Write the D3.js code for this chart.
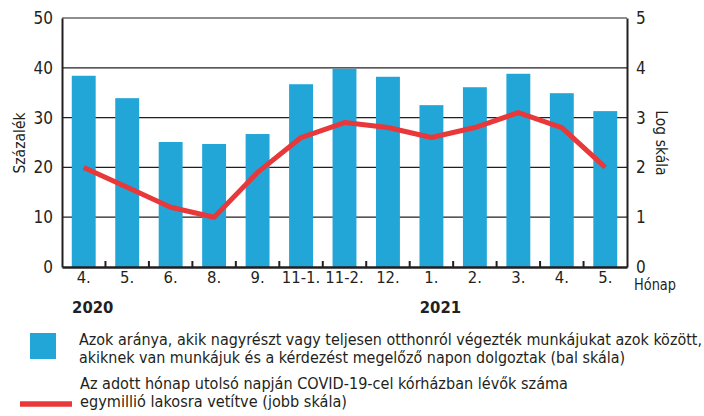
<html>
<head>
<meta charset="utf-8">
<script src="https://d3js.org/d3.v7.min.js"></script>
<style>
  body { margin: 0; background: #fff; }
  text { font-family: 'DejaVu Sans Condensed', 'Liberation Sans Narrow', sans-serif; fill: #231f20; }
</style>
</head>
<body>
<svg id="chart" width="704" height="416"></svg>
<script>
// data
var months = ["4.", "5.", "6.", "8.", "9.", "11-1.", "11-2.", "12.", "1.", "2.", "3.", "4.", "5."];
var years = [{ year: "2020", at: 0 }, { year: "2021", at: 8 }];
var homeShare = [38.4, 33.9, 25.1, 24.7, 26.7, 36.7, 39.8, 38.2, 32.5, 36.1, 38.8, 34.9, 31.3];
var covidLog = [2.0, 1.6, 1.2, 1.0, 1.9, 2.6, 2.9, 2.8, 2.6, 2.8, 3.1, 2.8, 2.0];
var leftTicks = [0, 10, 20, 30, 40, 50];
var rightTicks = [0, 1, 2, 3, 4, 5];
var legendBar = ["Azok aránya, akik nagyrészt vagy teljesen otthonról végezték munkájukat azok között,",
                 "akiknek van munkájuk és a kérdezést megelőző napon dolgoztak (bal skála)"];
var legendLine = ["Az adott hónap utolsó napján COVID-19-cel kórházban lévők száma",
                  "egymillió lakosra vetítve (jobb skála)"];

var blue = "#22a6d8", red = "#e8383a";
var svg = d3.select("#chart");
var L = 62, R = 627, T = 18, B = 267;
var idx = months.map(function (d, i) { return i; });

var x = d3.scaleBand().domain(idx).range([L, R]).paddingInner(0.45).paddingOuter(0.225);
var xb = d3.scaleBand().domain(idx).range([L, R]);
var yL = d3.scaleLinear().domain([0, 50]).range([B, T]);
var yR = d3.scaleLinear().domain([0, 5]).range([B, T]);

// gridlines
svg.append("g").selectAll("line").data(leftTicks.slice(1)).enter().append("line")
  .attr("x1", L).attr("x2", R).attr("y1", yL).attr("y2", yL)
  .attr("stroke", "#231f20").attr("stroke-width", 1.2);

// bars
svg.append("g").selectAll("rect").data(homeShare).enter().append("rect")
  .attr("x", function (d, i) { return x(i); })
  .attr("width", x.bandwidth())
  .attr("y", function (d) { return yL(d); })
  .attr("height", function (d) { return B - yL(d); })
  .attr("fill", blue);

// line
var line = d3.line()
  .x(function (d, i) { return xb(i) + xb.bandwidth() / 2; })
  .y(function (d) { return yR(d); });
svg.append("path").datum(covidLog).attr("d", line)
  .attr("fill", "none").attr("stroke", red).attr("stroke-width", 5)
  .attr("stroke-linejoin", "round");

// axes
var axL = svg.append("g").attr("transform", "translate(" + L + ",0)")
  .call(d3.axisLeft(yL).tickValues(leftTicks).tickSize(0).tickPadding(9));
var axR = svg.append("g").attr("transform", "translate(" + R + ",0)")
  .call(d3.axisRight(yR).tickValues(rightTicks).tickSize(0).tickPadding(9).tickFormat(d3.format("d")));
[axL, axR].forEach(function (g) {
  g.select(".domain").attr("stroke", "#231f20").attr("stroke-width", 2);
  g.selectAll("text").attr("font-size", 17).attr("font-family", null);
});

var axB = svg.append("g").attr("transform", "translate(0," + B + ")")
  .call(d3.axisBottom(x).tickSize(0).tickPadding(4).tickFormat(function (i) { return months[i]; }));
axB.select(".domain").attr("stroke", "#231f20").attr("stroke-width", 2.5);
axB.selectAll("text").attr("font-size", 16.5).attr("font-family", null);
axB.selectAll("line.sep").data(idx.slice(1)).enter().append("line").attr("class", "sep")
  .attr("x1", function (i) { return xb(i); }).attr("x2", function (i) { return xb(i); })
  .attr("y1", 0).attr("y2", -6).attr("stroke", "#231f20").attr("stroke-width", 2);

// year labels
svg.append("g").selectAll("text").data(years).enter().append("text")
  .attr("x", function (d) { return xb(d.at) + xb.bandwidth() / 2 + 9; })
  .attr("y", 313).attr("text-anchor", "middle").attr("font-size", 16.5)
  .style("font-weight", "bold").text(function (d) { return d.year; });

svg.append("text").attr("x", 634).attr("y", 290).attr("font-size", 15)
  .attr("textLength", 42).attr("lengthAdjust", "spacingAndGlyphs").text("Hónap");

svg.append("text").attr("transform", "translate(25,143) rotate(-90)")
  .attr("text-anchor", "middle").attr("font-size", 15.5).text("Százalék");
svg.append("text").attr("transform", "translate(656,143) rotate(90)")
  .attr("text-anchor", "middle").attr("font-size", 15.5).text("Log skála");

// legend
var barWidths = [623, 546], lineWidths = [488, 267];
svg.append("rect").attr("x", 30).attr("y", 333).attr("width", 26).attr("height", 26).attr("fill", blue);
svg.append("line").attr("x1", 20).attr("x2", 72).attr("y1", 404).attr("y2", 404)
  .attr("stroke", red).attr("stroke-width", 5.5);
svg.append("g").selectAll("text").data(legendBar).enter().append("text")
  .attr("x", 79).attr("y", function (d, i) { return 345 + i * 18; })
  .attr("font-size", 15).attr("textLength", function (d, i) { return barWidths[i]; })
  .attr("lengthAdjust", "spacingAndGlyphs").text(function (d) { return d; });
svg.append("g").selectAll("text").data(legendLine).enter().append("text")
  .attr("x", 80).attr("y", function (d, i) { return 389 + i * 18; })
  .attr("font-size", 15).attr("textLength", function (d, i) { return lineWidths[i]; })
  .attr("lengthAdjust", "spacingAndGlyphs").text(function (d) { return d; });
</script>
</body>
</html>
